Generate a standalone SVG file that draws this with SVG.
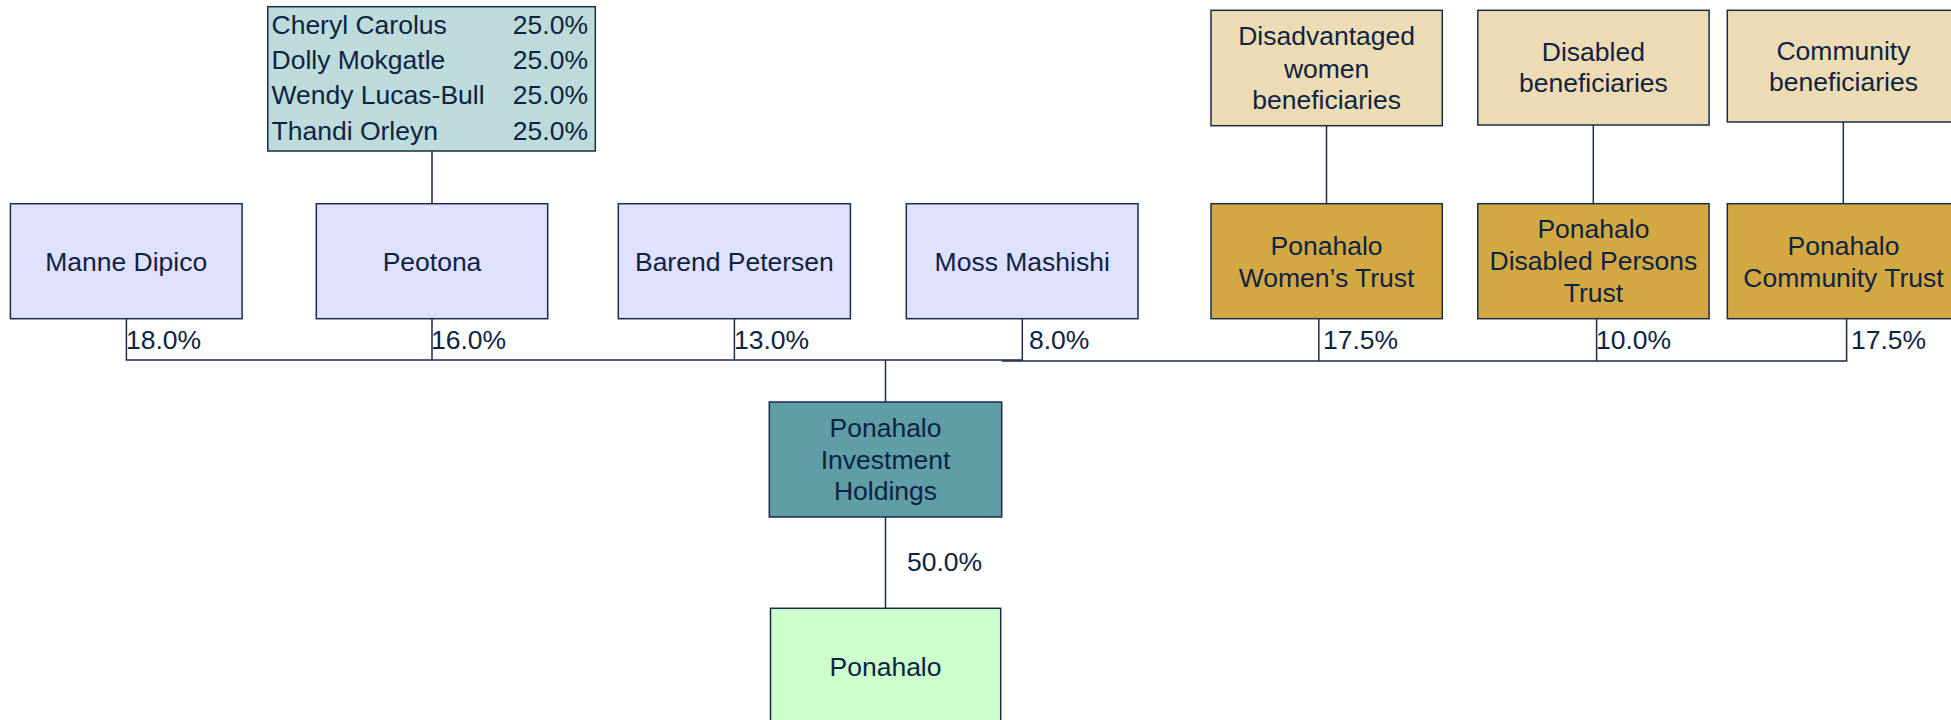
<svg xmlns="http://www.w3.org/2000/svg" width="1951" height="720" viewBox="0 0 1951 720">
<style>
text{font-family:"Liberation Sans",Arial,sans-serif;font-size:26.5px;fill:#0d2342}
.c{text-anchor:middle}
.e{text-anchor:end}
rect{stroke:#1b2b4b;stroke-width:1.5}
.ind{fill:#e0e0ff}
.sh{fill:#bddbda}
.ben{fill:#eddcb3}
.tr{fill:#d3a843}
.pih{fill:#5f9ea6}
.pon{fill:#ccffcc}
#connectors line{stroke:#1b2b4b;stroke-width:1.5}
</style>
<rect width="1951" height="720" fill="#ffffff" style="stroke:none"/>
<g id="connectors">
<line x1="432" y1="151" x2="432" y2="204"/>
<line x1="1326.5" y1="125.7" x2="1326.5" y2="204"/>
<line x1="1593.3" y1="125" x2="1593.3" y2="204"/>
<line x1="1843.3" y1="122" x2="1843.3" y2="204"/>
<line x1="126.4" y1="318.7" x2="126.4" y2="360"/>
<line x1="432" y1="318.7" x2="432" y2="360"/>
<line x1="734.4" y1="318.7" x2="734.4" y2="360"/>
<line x1="1022.3" y1="318.7" x2="1022.3" y2="360"/>
<line x1="1318.8" y1="318.7" x2="1318.8" y2="361"/>
<line x1="1596.6" y1="318.7" x2="1596.6" y2="361"/>
<line x1="1846.6" y1="318.7" x2="1846.6" y2="361"/>
<line x1="125.7" y1="360" x2="1023" y2="360"/>
<line x1="1001.7" y1="361" x2="1847.3" y2="361"/>
<line x1="885.5" y1="360" x2="885.5" y2="402"/>
<line x1="885.5" y1="517" x2="885.5" y2="608.3"/>
<text x="126" y="349">18.0%</text>
<text x="431" y="349">16.0%</text>
<text x="734" y="349">13.0%</text>
<text x="1029" y="349">8.0%</text>
<text x="1323" y="349">17.5%</text>
<text x="1596" y="349">10.0%</text>
<text x="1851" y="349">17.5%</text>
<text x="907" y="571">50.0%</text>
</g>
<g id="peotona-shareholders">
<rect class="sh" x="267.8" y="6.7" width="327.5" height="144.3"/>
<text x="271.5" y="34.3">Cheryl Carolus</text><text class="e" x="588" y="34.3">25.0%</text>
<text x="271.5" y="69">Dolly Mokgatle</text><text class="e" x="588" y="69">25.0%</text>
<text x="271.5" y="104.3">Wendy Lucas-Bull</text><text class="e" x="588" y="104.3">25.0%</text>
<text x="271.5" y="140">Thandi Orleyn</text><text class="e" x="588" y="140">25.0%</text>
</g>
<g id="women-beneficiaries">
<rect class="ben" x="1211" y="10.3" width="231.3" height="115.4"/>
<text class="c" x="1326.6" y="45">Disadvantaged</text>
<text class="c" x="1326.6" y="77.5">women</text>
<text class="c" x="1326.6" y="109.3">beneficiaries</text>
</g>
<g id="disabled-beneficiaries">
<rect class="ben" x="1477.8" y="10.3" width="231.3" height="114.7"/>
<text class="c" x="1593.4" y="60.7">Disabled</text>
<text class="c" x="1593.4" y="91.7">beneficiaries</text>
</g>
<g id="community-beneficiaries">
<rect class="ben" x="1727.3" y="10.3" width="232" height="111.7"/>
<text class="c" x="1843.5" y="60">Community</text>
<text class="c" x="1843.5" y="91">beneficiaries</text>
</g>
<g id="manne-dipico">
<rect class="ind" x="10.4" y="203.7" width="231.7" height="115"/>
<text class="c" x="126.2" y="271">Manne Dipico</text>
</g>
<g id="peotona">
<rect class="ind" x="316.3" y="203.7" width="231.4" height="115"/>
<text class="c" x="432" y="271">Peotona</text>
</g>
<g id="barend-petersen">
<rect class="ind" x="618.3" y="203.7" width="232.1" height="115"/>
<text class="c" x="734.4" y="271">Barend Petersen</text>
</g>
<g id="moss-mashishi">
<rect class="ind" x="906.3" y="203.7" width="231.7" height="115"/>
<text class="c" x="1022.2" y="271">Moss Mashishi</text>
</g>
<g id="womens-trust">
<rect class="tr" x="1211" y="203.7" width="231.3" height="115"/>
<text class="c" x="1326.6" y="255">Ponahalo</text>
<text class="c" x="1326.6" y="286.7">Women’s Trust</text>
</g>
<g id="disabled-trust">
<rect class="tr" x="1477.8" y="203.7" width="231.3" height="115"/>
<text class="c" x="1593.4" y="238.3">Ponahalo</text>
<text class="c" x="1593.4" y="270.3">Disabled Persons</text>
<text class="c" x="1593.4" y="301.7">Trust</text>
</g>
<g id="community-trust">
<rect class="tr" x="1727.3" y="203.7" width="232" height="115"/>
<text class="c" x="1843.5" y="255">Ponahalo</text>
<text class="c" x="1843.5" y="286.7">Community Trust</text>
</g>
<g id="ponahalo-investment-holdings">
<rect class="pih" x="769.3" y="402" width="232.4" height="115"/>
<text class="c" x="885.5" y="436.7">Ponahalo</text>
<text class="c" x="885.5" y="468.5">Investment</text>
<text class="c" x="885.5" y="500">Holdings</text>
</g>
<g id="ponahalo">
<rect class="pon" x="770.5" y="608.3" width="230.2" height="125"/>
<text class="c" x="885.5" y="676">Ponahalo</text>
</g>
</svg>
